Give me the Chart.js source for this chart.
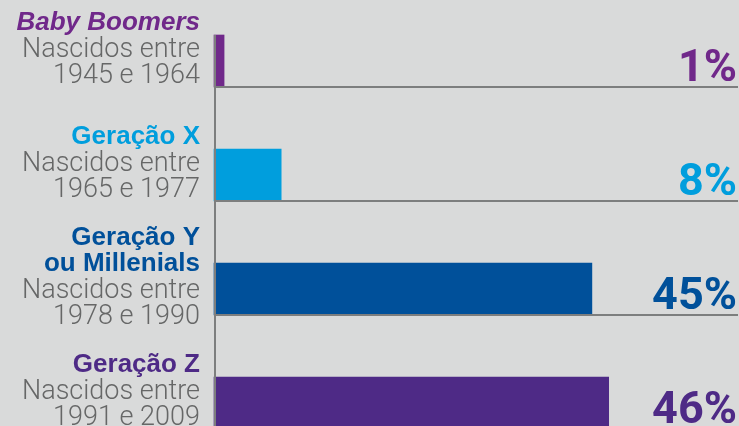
<!DOCTYPE html>
<html>
<head>
<meta charset="utf-8">
<script src="https://cdn.jsdelivr.net/npm/chart.js@4/dist/chart.umd.min.js"></script>
<style>
  html, body { margin: 0; padding: 0; background: #d9dada; overflow: hidden; }
  #wrap { width: 739px; height: 426px; position: relative; }
</style>
</head>
<body>
<div id="wrap"><canvas id="c" width="739" height="426"></canvas></div>
<script>
const categories = ["Baby Boomers", "Geração X", "Geração Y ou Millenials", "Geração Z"];
const titleLines = [["Baby Boomers"], ["Geração X"], ["Geração Y", "ou Millenials"], ["Geração Z"]];
const subtitleLines = [
  ["Nascidos entre", "1945 e 1964"],
  ["Nascidos entre", "1965 e 1977"],
  ["Nascidos entre", "1978 e 1990"],
  ["Nascidos entre", "1991 e 2009"]
];
const shares = [1.2, 8, 45, 47];
const shareLabels = ["1%", "8%", "45%", "46%"];
const colors = ["#70288a", "#009edd", "#00509a", "#4e2a86"];
const titleItalic = [true, false, false, false];

const labelPlugin = {
  id: 'customLabels',
  afterDatasetsDraw(chart) {
    const ctx = chart.ctx;
    const area = chart.chartArea;
    const meta = chart.getDatasetMeta(0);
    ctx.save();
    ctx.strokeStyle = '#7d7e7e';
    ctx.lineWidth = 2;
    meta.data.forEach((bar) => {
      const bottom = bar.y + bar.height / 2;
      ctx.beginPath();
      ctx.moveTo(area.left, bottom);
      ctx.lineTo(area.right, bottom);
      ctx.stroke();
    });
    const firstTop = meta.data[0].y - meta.data[0].height / 2;
    ctx.beginPath();
    ctx.moveTo(area.left + 1, firstTop);
    ctx.lineTo(area.left + 1, chart.height);
    ctx.stroke();

    const lh = 26.5;
    meta.data.forEach((bar, i) => {
      const lines = [];
      titleLines[i].forEach(t => lines.push({text: t, title: true}));
      subtitleLines[i].forEach(t => lines.push({text: t, title: false}));
      const n = lines.length;
      const center = bar.y - 12;
      ctx.textAlign = 'right';
      ctx.textBaseline = 'alphabetic';
      lines.forEach((ln, k) => {
        const y = center + (k - (n - 1) / 2) * lh + 7.5;
        if (ln.title) {
          ctx.font = (titleItalic[i] ? 'italic ' : '') + 'bold 26px "Liberation Sans", Arial, sans-serif';
          ctx.fillStyle = colors[i];
        } else {
          ctx.font = '300 27px "Roboto", "Liberation Sans", sans-serif';
          ctx.fillStyle = '#666767';
        }
        ctx.fillText(ln.text, 200, y);
      });
      ctx.font = 'bold 45px "Roboto", "Liberation Sans", sans-serif';
      ctx.fillStyle = colors[i];
      ctx.textAlign = 'right';
      ctx.fillText(shareLabels[i], area.right - 1, bar.y + 20);
    });
    ctx.restore();
  }
};

new Chart(document.getElementById('c'), {
  type: 'bar',
  data: {
    labels: categories,
    datasets: [{
      data: shares,
      backgroundColor: colors,
      borderWidth: 0,
      barThickness: 52,
      clip: false
    }]
  },
  options: {
    indexAxis: 'y',
    responsive: false,
    animation: false,
    layout: { padding: { left: 214, right: 1, top: 61, bottom: 23 } },
    plugins: { legend: { display: false }, tooltip: { enabled: false } },
    scales: {
      x: { type: 'linear', min: 0, max: 62.4, display: false },
      y: { type: 'category', offset: false, display: false }
    }
  },
  plugins: [labelPlugin]
});
</script>
</body>
</html>
